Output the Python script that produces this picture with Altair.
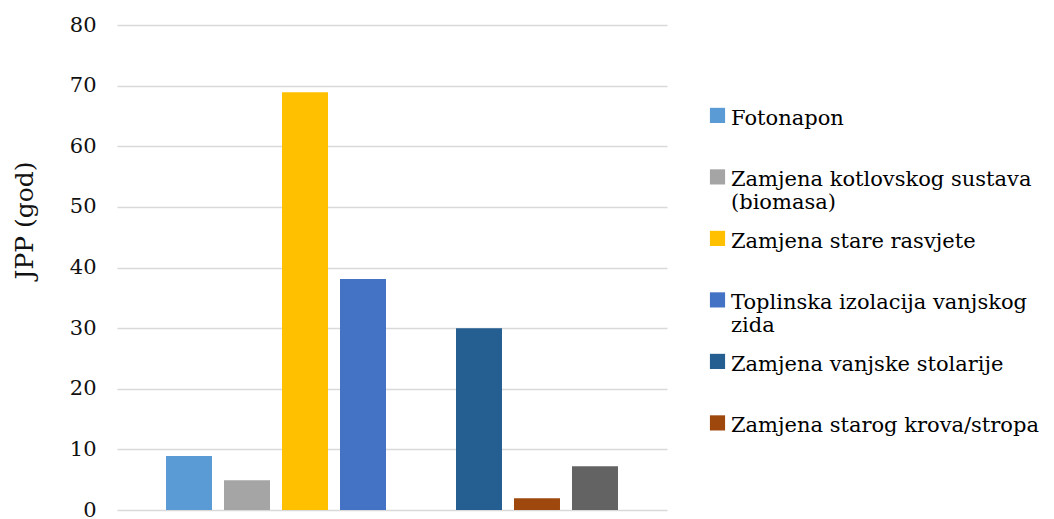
import json
import altair as alt
import pandas as pd

# Series (one bar each, in drawing order)
series = [
    "Fotonapon",
    "Zamjena kotlovskog sustava (biomasa)",
    "Zamjena stare rasvjete",
    "Toplinska izolacija vanjskog zida",
    "Mjera 5",
    "Zamjena vanjske stolarije",
    "Zamjena starog krova/stropa",
    "Mjera 8",
]
values = [8.9, 4.9, 68.9, 38.1, None, 30.0, 1.95, 7.2]
colors = ["#5B9BD5", "#A5A5A5", "#FFC000", "#4472C4", "#70AD47",
          "#255E91", "#9E480E", "#636363"]
legend_entries = series[:4] + series[5:7]
wrapped = {
    "Zamjena kotlovskog sustava (biomasa)": ["Zamjena kotlovskog sustava", "(biomasa)"],
    "Toplinska izolacija vanjskog zida": ["Toplinska izolacija vanjskog", "zida"],
}
y_ticks = [0, 10, 20, 30, 40, 50, 60, 70, 80]

df = pd.DataFrame({"serija": series, "JPP": values})

label_expr = ""
for name, lines in wrapped.items():
    label_expr += f"datum.label === {json.dumps(name)} ? {json.dumps(lines)} : "
label_expr += "datum.label"

FONT = "DejaVu Serif"

chart = alt.Chart(df).mark_bar().encode(
    x=alt.X("serija:N", sort=series, axis=None,
            scale=alt.Scale(domain=series, paddingInner=0.207, paddingOuter=0.845)),
    y=alt.Y("JPP:Q",
            scale=alt.Scale(domain=[0, 80], nice=False),
            axis=alt.Axis(values=y_ticks, title="JPP (god)", domain=False, ticks=False,
                          labelFont=FONT, labelFontSize=21, labelColor="#111111",
                          labelPadding=21, gridColor="#D9D9D9", gridWidth=1.5,
                          titleFont=FONT, titleFontSize=25, titleFontWeight="normal",
                          titleColor="#111111", titleAngle=270, titleAlign="center",
                          titleBaseline="middle", titleX=-93, titleY=195)),
    color=alt.Color("serija:N",
                    scale=alt.Scale(domain=series, range=colors),
                    legend=alt.Legend(
                        title=None, values=legend_entries, orient="none",
                        legendX=590, legendY=89, padding=0,
                        symbolType="M-1,-2.2L1,-2.2L1,-0.2L-1,-0.2Z",
                        symbolSize=230, symbolStrokeWidth=0, symbolOpacity=1,
                        labelFont=FONT, labelFontSize=21, labelColor="#000000",
                        labelBaseline="alphabetic", labelLimit=400, labelOffset=3,
                        labelExpr=label_expr, gridAlign="all", rowPadding=16.5)),
).properties(
    width=550, height=485,
    background="white",
    padding={"left": 4, "top": 6, "right": 0, "bottom": 0},
).configure(
    font=FONT,
).configure_view(strokeWidth=0, stroke="transparent")

chart.save("out.html", embed_options={"renderer": "svg", "actions": False})
